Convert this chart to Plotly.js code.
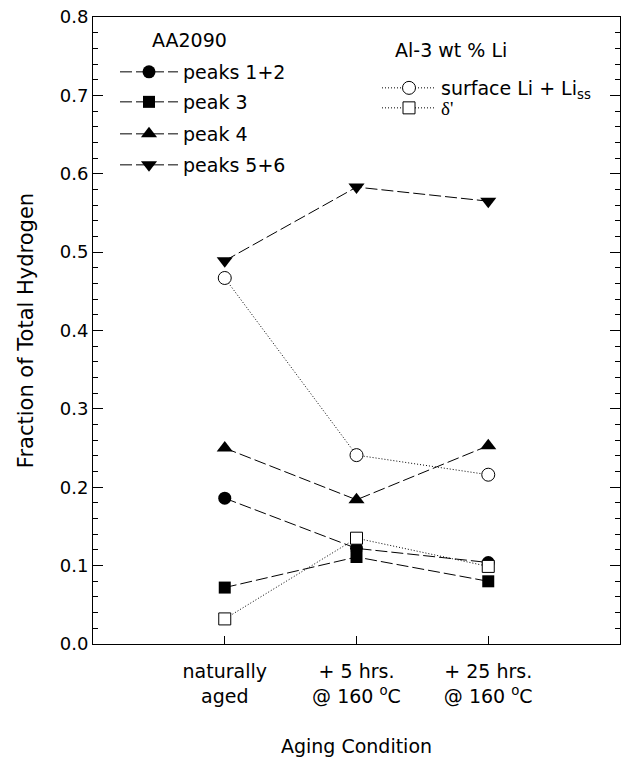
<!DOCTYPE html>
<html>
<head>
<meta charset="utf-8">
<script src="https://cdn.plot.ly/plotly-3.0.1.min.js"></script>
<style>html,body{margin:0;padding:0;background:#fff;}#chart{width:621px;height:757px;}</style>
</head>
<body>
<div id="chart"></div>
<script>
// Categories (x) and tick labels
var categories = ["naturally aged", "+ 5 hrs. @ 160 oC", "+ 25 hrs. @ 160 oC"];
var tickLabels = ["naturally<br>aged", "+ 5 hrs.<br>@ 160 <sup>o</sup>C", "+ 25 hrs.<br>@ 160 <sup>o</sup>C"];

// AA2090 series
var peaks12 = [0.186, 0.122, 0.104];
var peak3 = [0.072, 0.111, 0.080];
var peak4 = [0.250, 0.184, 0.253];
var peaks56 = [0.489, 0.583, 0.565];

// Al-3 wt % Li series
var surfaceLi = [0.467, 0.241, 0.216];
var deltaPrime = [0.032, 0.135, 0.099];

var seriesNames = ["peaks 1+2", "peak 3", "peak 4", "peaks 5+6",
  "surface Li + Li<sub>ss</sub>",
  "<span style=\"font-family:'Liberation Serif'\">δ'</span>"];

var FONT = "DejaVu Sans, Arial, sans-serif";
var dashAA = "12px,4px";
var dotLi = "1px,2px";

function aaTrace(y, name, symbol, size, legendId) {
  return {
    x: categories, y: y, name: name, type: "scatter", mode: "lines+markers",
    line: {color: "black", width: 1, dash: dashAA},
    marker: {symbol: symbol, size: size, color: "black", line: {width: 0}},
    legend: legendId, showlegend: true
  };
}
function liTrace(y, name, symbol, size, legendId) {
  return {
    x: categories, y: y, name: name, type: "scatter", mode: "lines+markers",
    line: {color: "black", width: 1, dash: dotLi},
    marker: {symbol: symbol, size: size, color: "white", line: {width: 1, color: "black"}},
    legend: legendId, showlegend: true
  };
}

var data = [
  aaTrace(peaks12, seriesNames[0], "circle", 13, "legend"),
  aaTrace(peak3, seriesNames[1], "square", 12, "legend2"),
  aaTrace(peak4, seriesNames[2], "triangle-up", 14, "legend3"),
  aaTrace(peaks56, seriesNames[3], "triangle-down", 14, "legend4"),
  liTrace(surfaceLi, seriesNames[4], "circle", 13, "legend5"),
  liTrace(deltaPrime, seriesNames[5], "square", 12, "legend6")
];

var W = 621, H = 757;
var PL = 93, PR = 620, PT = 17, PB = 644;
function px2x(px) { return (px - PL) / (PR - PL); }
function py2y(py) { return (PB - py) / (PB - PT); }
function leg(px, py, iw) {
  return {
    xref: "paper", yref: "paper",
    x: px2x(px), y: py2y(py), xanchor: "left", yanchor: "middle",
    bgcolor: "rgba(0,0,0,0)", borderwidth: 0,
    itemwidth: iw, font: {family: FONT, size: 19, color: "black"},
    tracegroupgap: 0
  };
}

var layout = {
  width: W, height: H,
  margin: {l: PL, r: W - PR, t: PT, b: H - PB, autoexpand: false},
  paper_bgcolor: "white", plot_bgcolor: "white",
  font: {family: FONT, size: 18, color: "black"},
  showlegend: true,
  xaxis: {
    type: "category", range: [-1, 3],
    tickmode: "array", tickvals: categories, ticktext: tickLabels, tickangle: 0,
    ticks: "inside", ticklen: 8, tickwidth: 1, tickcolor: "black",
    ticklabelstandoff: 10,
    showline: true, linecolor: "black", linewidth: 1, mirror: true,
    showgrid: false, zeroline: false,
    tickfont: {family: FONT, size: 19, color: "black"},
    title: {text: "Aging Condition", font: {family: FONT, size: 19, color: "black"}, standoff: 35},
    automargin: false
  },
  yaxis: {
    range: [0, 0.8], dtick: 0.1, tickformat: ".1f",
    ticks: "inside", ticklen: 10, tickwidth: 1, tickcolor: "black",
    minor: {dtick: 0.02, ticks: "inside", ticklen: 5, tickwidth: 1, tickcolor: "black", showgrid: false},
    showline: true, linecolor: "black", linewidth: 1, mirror: "allticks",
    showgrid: false, zeroline: false,
    tickfont: {family: FONT, size: 18, color: "black"},
    title: {text: "Fraction of Total Hydrogen", font: {family: FONT, size: 21, color: "black"}, standoff: 20},
    automargin: false
  },
  legend: leg(115, 72, 58),
  legend2: leg(115, 102, 58),
  legend3: leg(115, 134, 58),
  legend4: leg(115, 165, 58),
  legend5: leg(377, 88, 54),
  legend6: leg(377, 108, 54),
  annotations: [
    {xref: "paper", yref: "paper", x: px2x(150), y: py2y(40), xanchor: "left", yanchor: "middle",
     text: "AA2090", showarrow: false, font: {family: FONT, size: 19, color: "black"}},
    {xref: "paper", yref: "paper", x: px2x(393), y: py2y(50), xanchor: "left", yanchor: "middle",
     text: "Al-3 wt % Li", showarrow: false, font: {family: FONT, size: 19, color: "black"}}
  ]
};

Plotly.newPlot("chart", data, layout, {displayModeBar: false, staticPlot: true});
</script>
</body>
</html>
